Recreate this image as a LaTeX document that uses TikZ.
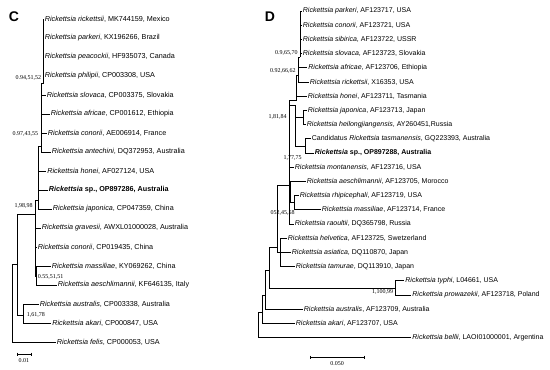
\documentclass[tikz,border=0pt]{standalone}
\usepackage{fontspec}
\setmainfont{Liberation Sans}
\newfontfamily\numfont{Liberation Serif}
\usetikzlibrary{positioning}

\begin{document}
\begin{tikzpicture}[x=1pt, y=-1pt, line width=0.8pt,
  leaf/.style={anchor=west, inner sep=1pt, font=\fontsize{7.2}{8}\selectfont},
  dleaf/.style={leaf, font=\fontsize{7}{8}\selectfont},
  supp/.style={inner sep=0.5pt, font=\numfont\fontsize{6}{7}\selectfont},
  panel/.style={inner sep=0pt, font=\fontsize{14}{16}\selectfont\bfseries}]
  \useasboundingbox (0,0) rectangle (550,370);

  % 图 C
  \node[panel] (labC) at (14,17) {C};

  % C 叶节点
  \node[leaf] (cRic) at (43.5,19) {\textit{Rickettsia rickettsii}, MK744159, Mexico};
  \node[leaf] (cPar) at (43.5,38) {\textit{Rickettsia parkeri}, KX196266, Brazil};
  \node[leaf] (cPea) at (43.5,57) {\textit{Rickettsia peacockii}, HF935073, Canada};
  \node[leaf] (cPhi) at (43.5,76) {\textit{Rickettsia philipii}, CP003308, USA};
  \node[leaf] (cSlo) at (45.5,95) {\textit{Rickettsia slovaca}, CP003375, Slovakia};
  \node[leaf] (cAfr) at (49.5,114) {\textit{Rickettsia africae}, CP001612, Ethiopia};
  \node[leaf] (cCon) at (46.5,133) {\textit{Rickettsia conorii}, AE006914, France};
  \node[leaf] (cAnt) at (50.5,152) {\textit{Rickettsia antechini}, DQ372953, Australia};
  \node[leaf] (cHon) at (46,171) {\textit{Rickettsia honei}, AF027124, USA};
  \node[leaf] (cSp) at (47.5,190) {\textbf{\textit{Rickettsia} sp., OP897286, Australia}};
  \node[leaf] (cJap) at (51.5,209) {\textit{Rickettsia japonica}, CP047359, China};
  \node[leaf] (cGra) at (40.5,228) {\textit{Rickettsia gravesii}, AWXL01000028, Australia};
  \node[leaf] (cCo2) at (36.5,247) {\textit{Rickettsia conorii}, CP019435, China};
  \node[leaf] (cMas) at (50.5,266) {\textit{Rickettsia massiliae}, KY069262, China};
  \node[leaf] (cAes) at (56.5,285) {\textit{Rickettsia aeschlimannii}, KF646135, Italy};
  \node[leaf] (cAus) at (38.5,304) {\textit{Rickettsia australis}, CP003338, Australia};
  \node[leaf] (cAka) at (51,323) {\textit{Rickettsia akari}, CP000847, USA};
  \node[leaf] (cFel) at (55.5,342) {\textit{Rickettsia felis}, CP000053, USA};

  % C 内部节点
  \coordinate (c1) at (43.5,83);
  \coordinate (c2) at (41.5,146);
  \coordinate (c3) at (38.5,200);
  \coordinate (c4) at (35.5,214);
  \coordinate (c5) at (36.5,276);
  \coordinate (c6) at (17,264);
  \coordinate (c7) at (23,315);
  \coordinate (c0) at (12,303);

  % C 分支
  \draw (c1) |- (cRic.west) (c1) |- (cPar.west) (c1) |- (cPea.west) (c1) |- (cPhi.west);
  \draw (c2) |- (c1) (c2) |- (cSlo.west) (c2) |- (cAfr.west) (c2) |- (cCon.west) (c2) |- (cAnt.west);
  \draw (c3) |- (c2) (c3) |- (cHon.west) (c3) |- (cSp.west) (c3) |- (cJap.west);
  \draw (c4) |- (c3) (c4) |- (cGra.west) (c4) |- (cCo2.west) (c4) |- (c5);
  \draw (c5) |- (cMas.west) (c5) |- (cAes.west);
  \draw (c6) |- (c4) (c6) |- (c7);
  \draw (c7) |- (cAus.west) (c7) |- (cAka.west);
  \draw (c0) |- (c6) (c0) |- (cFel.west);

  % C 支持值
  \node[supp, anchor=east] (sc1) at (42,77.5) {0.94,51,52};
  \node[supp, anchor=east] (sc2) at (39,134) {0.97,43,55};
  \node[supp, anchor=east] (sc3) at (33.5,206) {1,98,98};
  \node[supp, anchor=west] (sc4) at (37,277) {0.55,51,51};
  \node[supp, anchor=west] (sc5) at (26,315) {1,61,78};

  % C 标尺
  \coordinate (cb1) at (17,354);
  \coordinate (cb2) at (31,354);
  \draw[line width=0.6pt] (cb1) -- (cb2);
  \draw[line width=0.6pt] ([yshift=1.5pt]cb1) -- ([yshift=-1.5pt]cb1);
  \draw[line width=0.6pt] ([yshift=1.5pt]cb2) -- ([yshift=-1.5pt]cb2);
  \node[supp] (cbl) at (24,361) {0.01};

  % 图 D
  \node[panel] (labD) at (270,17) {D};

  % D 叶节点
  \node[dleaf] (dPar) at (301.5,11) {\textit{Rickettsia parkeri}, AF123717, USA};
  \node[dleaf] (dCon) at (301.5,25.2) {\textit{Rickettsia conorii}, AF123721, USA};
  \node[dleaf] (dSib) at (301.5,39.4) {\textit{Rickettsia sibirica}, AF123722, USSR};
  \node[dleaf] (dSlo) at (301.5,53.6) {\textit{Rickettsia slovaca}, AF123723, Slovakia};
  \node[dleaf] (dAfr) at (307,67.8) {\textit{Rickettsia africae}, AF123706, Ethiopia};
  \node[dleaf] (dRic) at (308.5,82) {\textit{Rickettsia rickettsii}, X16353, USA};
  \node[dleaf] (dHon) at (306.5,96.2) {\textit{Rickettsia honei}, AF123711, Tasmania};
  \node[dleaf] (dJap) at (306.5,110.4) {\textit{Rickettsia japonica}, AF123713, Japan};
  \node[dleaf] (dHei) at (305.5,124.6) {\textit{Rickettsia heilongjiangensis}, AY260451,Russia};
  \node[dleaf] (dTas) at (310.5,138.8) {Candidatus \textit{Rickettsia tasmanensis}, GQ223393, Australia};
  \node[dleaf] (dSp) at (313.5,153) {\textbf{\textit{Rickettsia} sp., OP897288, Australia}};
  \node[dleaf] (dMon) at (293.5,167.2) {\textit{Rickettsia montanensis}, AF123716, USA};
  \node[dleaf] (dAes) at (305.5,181.4) {\textit{Rickettsia aeschlimannii}, AF123705, Morocco};
  \node[dleaf] (dRhi) at (298.5,195.6) {\textit{Rickettsia rhipicephali}, AF123719, USA};
  \node[dleaf] (dMas) at (320.5,209.8) {\textit{Rickettsia massiliae}, AF123714, France};
  \node[dleaf] (dRao) at (293.5,224) {\textit{Rickettsia raoultii}, DQ365798, Russia};
  \node[dleaf] (dHel) at (286.5,238.2) {\textit{Rickettsia helvetica}, AF123725, Swetzerland};
  \node[dleaf] (dAsi) at (290.5,252.4) {\textit{Rickettsia asiatica}, DQ110870, Japan};
  \node[dleaf] (dTam) at (294.5,266.6) {\textit{Rickettsia tamurae}, DQ113910, Japan};
  \node[dleaf] (dTyp) at (404,280.8) {\textit{Rickettsia typhi}, L04661, USA};
  \node[dleaf] (dPro) at (411,295) {\textit{Rickettsia prowazekii}, AF123718, Poland};
  \node[dleaf] (dAus) at (302.5,309.2) {\textit{Rickettsia australis}, AF123709, Australia};
  \node[dleaf] (dAka) at (294.5,323.4) {\textit{Rickettsia akari}, AF123707, USA};
  \node[dleaf] (dBel) at (411,337.6) {\textit{Rickettsia bellii}, LAOI01000001, Argentina};

  % D 内部节点
  \coordinate (d1) at (300,57);
  \coordinate (d2) at (298,75);
  \coordinate (d3) at (296.5,100);
  \coordinate (d4) at (303,117);
  \coordinate (d5) at (305,146);
  \coordinate (d6) at (295,105);
  \coordinate (d7) at (294.5,202);
  \coordinate (d8) at (290.5,190);
  \coordinate (dG) at (289,185);
  \coordinate (dK) at (280,252.4);
  \coordinate (dH) at (277,247);
  \coordinate (dT) at (395,288);
  \coordinate (dQ) at (269,270);
  \coordinate (dC) at (265.5,295);
  \coordinate (dB) at (262,312);
  \coordinate (dR) at (258,325);

  % D 分支
  \draw (d1) |- (dPar.west) (d1) |- (dCon.west) (d1) |- (dSib.west) (d1) |- (dSlo.west);
  \draw (d2) |- (d1) (d2) |- (dAfr.west) (d2) |- (dRic.west);
  \draw (d3) |- (d2) (d3) |- (dHon.west);
  \draw (d4) |- (dJap.west) (d4) |- (dHei.west);
  \draw (d5) |- (dTas.west) (d5) |- (dSp.west);
  \draw (d6) |- (d4) (d6) |- (d5);
  \draw (d7) |- (dRhi.west) (d7) |- (dMas.west);
  \draw (d8) |- (dAes.west) (d8) |- (d7);
  \draw (dG) |- (d3) (dG) |- (d6) (dG) |- (dMon.west) (dG) |- (d8) (dG) |- (dRao.west);
  \draw (dK) |- (dHel.west) (dK) |- (dAsi.west) (dK) |- (dTam.west);
  \draw (dH) |- (dG) (dH) |- (dK);
  \draw (dT) |- (dTyp.west) (dT) |- (dPro.west);
  \draw (dQ) |- (dH) (dQ) |- (dT);
  \draw (dC) |- (dQ) (dC) |- (dAus.west);
  \draw (dB) |- (dC) (dB) |- (dAka.west);
  \draw (dR) |- (dB) (dR) |- (dBel.west);

  % D 支持值
  \node[supp, anchor=east] (sd1) at (298.5,52.5) {0.9,65,70};
  \node[supp, anchor=east] (sd2) at (296.5,71) {0.92,66,62};
  \node[supp, anchor=east] (sd3) at (287.5,117) {1,81,84};
  \node[supp, anchor=east] (sd4) at (302.5,157.5) {1,77,75};
  \node[supp, anchor=east] (sd5) at (295.5,213) {052,45,58};
  \node[supp, anchor=east] (sd6) at (394,292) {1,100,99};

  % D 标尺
  \coordinate (db1) at (310,357);
  \coordinate (db2) at (364,357);
  \draw[line width=0.6pt] (db1) -- (db2);
  \draw[line width=0.6pt] ([yshift=1.5pt]db1) -- ([yshift=-1.5pt]db1);
  \draw[line width=0.6pt] ([yshift=1.5pt]db2) -- ([yshift=-1.5pt]db2);
  \node[supp] (dbl) at (337,364) {0.050};
\end{tikzpicture}
\end{document}
